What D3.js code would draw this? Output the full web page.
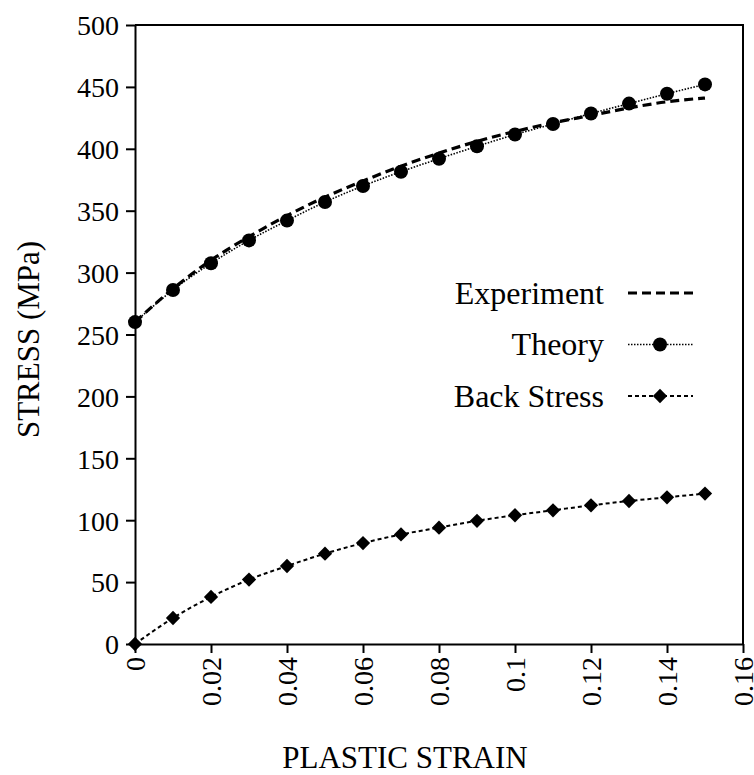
<!DOCTYPE html>
<html>
<head>
<meta charset="utf-8">
<script src="https://cdn.jsdelivr.net/npm/d3@7"></script>
<style>
  body { margin: 0; background: #fff; }
</style>
</head>
<body>
<div id="chart"></div>
<script>
// plastic strain, sampled every 0.01
var strain = [0, 0.01, 0.02, 0.03, 0.04, 0.05, 0.06, 0.07, 0.08, 0.09, 0.10, 0.11, 0.12, 0.13, 0.14, 0.15];
var experiment = [260, 287, 310, 329, 346, 361, 374, 386, 396.5, 406, 414, 421, 427, 433, 438, 441];
var theory = [260, 286, 307.5, 326, 342, 357, 370, 381.5, 392, 402, 411.5, 420, 428.5, 436.5, 444.5, 452];
var backStress = [0, 21, 38, 52, 63, 73, 81.5, 88.5, 94, 99.5, 104, 108, 112, 115.5, 118.5, 121.5];

var xTicks = [0, 0.02, 0.04, 0.06, 0.08, 0.1, 0.12, 0.14, 0.16];
var yTicks = [0, 50, 100, 150, 200, 250, 300, 350, 400, 450, 500];
var legendLabels = ["Experiment", "Theory", "Back Stress"];

var FONT = "Liberation Serif";

var W = 754, H = 775;
var margin = {top: 25, right: 11, bottom: 131, left: 135},
    width = W - margin.left - margin.right,
    height = H - margin.top - margin.bottom;

var svg = d3.select("#chart")
  .append("svg")
    .attr("width", W)
    .attr("height", H);

var g = svg.append("g")
    .attr("transform", "translate(" + margin.left + "," + margin.top + ")");

var x = d3.scaleLinear().domain([0, 0.16]).range([0, width]);
var y = d3.scaleLinear().domain([0, 500]).range([height, 0]);

// frame (top and right)
g.append("path")
  .attr("d", "M0,0H" + width + "V" + height)
  .attr("fill", "none")
  .attr("stroke", "#000")
  .attr("stroke-width", 2);

// y axis
var yAxis = g.append("g")
  .call(d3.axisLeft(y).tickValues(yTicks).tickSize(9).tickSizeOuter(0).tickPadding(7));
yAxis.selectAll("text")
  .style("font-family", FONT)
  .style("font-size", "28px")
  .attr("dy", "0.35em");

// x axis
var xAxis = g.append("g")
  .attr("transform", "translate(0," + height + ")")
  .call(d3.axisBottom(x).tickValues(xTicks).tickSize(9).tickSizeOuter(0).tickFormat(function(d){ return String(+d.toFixed(2)); }));
xAxis.selectAll("text")
  .style("font-family", FONT)
  .style("font-size", "28px")
  .attr("text-anchor", "end")
  .attr("transform", "rotate(-90)")
  .attr("x", -13)
  .attr("y", 0)
  .attr("dy", "0.33em");

g.selectAll(".domain").attr("stroke-width", 2);
g.selectAll(".tick line").attr("stroke-width", 2);

// axis titles
svg.append("text")
  .attr("transform", "translate(39," + (margin.top + height / 2 + 5) + ") rotate(-90)")
  .attr("text-anchor", "middle")
  .style("font-family", FONT)
  .style("font-size", "31px")
  .text("STRESS (MPa)");

svg.append("text")
  .attr("x", 405)
  .attr("y", 768)
  .attr("text-anchor", "middle")
  .style("font-family", FONT)
  .style("font-size", "31px")
  .text("PLASTIC STRAIN");

var line = function(vals){
  return d3.line()
    .x(function(d, i){ return x(strain[i]); })
    .y(function(d){ return y(d); })
    .curve(d3.curveMonotoneX)(vals);
};

// experiment: heavy dashes
g.append("path")
  .attr("d", line(experiment))
  .attr("fill", "none")
  .attr("stroke", "#000")
  .attr("stroke-width", 3.2)
  .attr("stroke-dasharray", "9,5");

// theory: dotted with circles
g.append("path")
  .attr("d", line(theory))
  .attr("fill", "none")
  .attr("stroke", "#000")
  .attr("stroke-width", 1.6)
  .attr("stroke-dasharray", "1.5,1.5");

g.selectAll(".theory")
  .data(theory)
  .enter().append("circle")
    .attr("class", "theory")
    .attr("cx", function(d, i){ return x(strain[i]); })
    .attr("cy", function(d){ return y(d); })
    .attr("r", 7);

// back stress: short dashes with diamonds
g.append("path")
  .attr("d", line(backStress))
  .attr("fill", "none")
  .attr("stroke", "#000")
  .attr("stroke-width", 2)
  .attr("stroke-dasharray", "4,3");

var diamond = d3.symbol().type(d3.symbolDiamond2).size(130);
g.selectAll(".back")
  .data(backStress)
  .enter().append("path")
    .attr("class", "back")
    .attr("d", diamond)
    .attr("transform", function(d, i){ return "translate(" + x(strain[i]) + "," + y(d) + ")"; });

// legend
var legend = svg.append("g").attr("transform", "translate(0,293)");
var legendStyles = [
  {w: 3.2, dash: "9,5", mark: null},
  {w: 1.6, dash: "1.5,1.5", mark: "circle"},
  {w: 2, dash: "4,3", mark: "diamond"}
];
legendLabels.forEach(function(lbl, i){
  var row = legend.append("g").attr("transform", "translate(0," + (i * 51.5) + ")");
  row.append("text")
    .attr("x", 604)
    .attr("y", 0)
    .attr("dy", "0.33em")
    .attr("text-anchor", "end")
    .style("font-family", FONT)
    .style("font-size", "32px")
    .text(lbl);
  var s = legendStyles[i];
  row.append("line")
    .attr("x1", 628).attr("x2", 693)
    .attr("stroke", "#000")
    .attr("stroke-width", s.w)
    .attr("stroke-dasharray", s.dash);
  if (s.mark === "circle") {
    row.append("circle").attr("cx", 660).attr("cy", 0).attr("r", 7);
  } else if (s.mark === "diamond") {
    row.append("path").attr("d", diamond).attr("transform", "translate(660,0)");
  }
});
</script>
</body>
</html>
